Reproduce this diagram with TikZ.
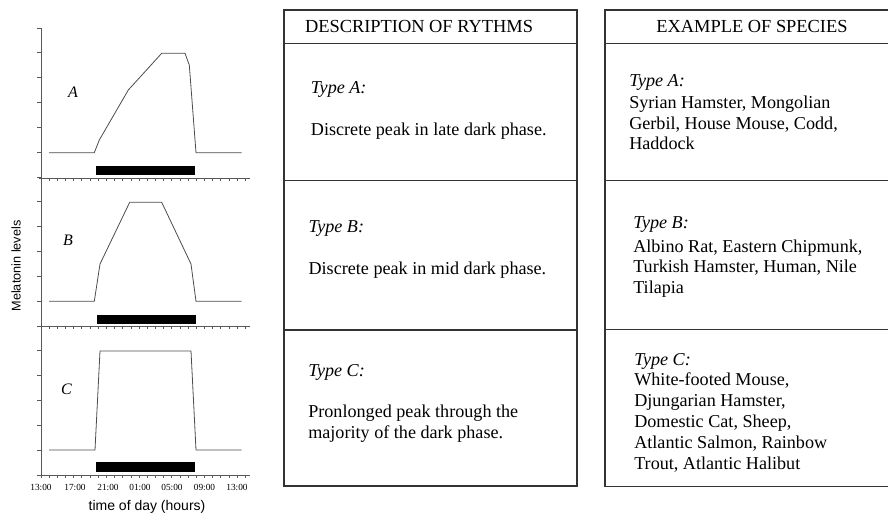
\documentclass[tikz,border=0pt]{standalone}
\usepackage{fontspec}
\setmainfont{Liberation Serif}
\setsansfont{Liberation Sans}

\begin{document}
\begin{tikzpicture}[x=0.75pt,y=-0.75pt,
  axis/.style={draw=black!65,line width=0.7pt},
  curve/.style={draw=black!70,line width=0.6pt},
  darkbar/.style={fill=black},
  cell/.style={draw=black!80,line width=0.8pt},
  txt/.style={anchor=base west,inner sep=0pt,font=\fontsize{13.6}{15}\selectfont},
  head/.style={anchor=base,inner sep=0pt,font=\fontsize{13.8}{15}\selectfont},
  ticklab/.style={anchor=base,inner sep=0pt,font=\fontsize{7}{8}\selectfont},
  panel/.style={inner sep=0pt,font=\fontsize{12}{13}\selectfont\itshape}]
\useasboundingbox (0,0) rectangle (888,514);

% melatonin plots
\draw[axis] (41,28) -- (41,475);
\foreach \k in {0,...,18}
  \draw[axis] (37,28+24.833*\k) -- (41,28+24.833*\k);
\foreach \y in {178,326,475} {
  \draw[axis] (39,\y) -- (250,\y);
  \foreach \i in {0,...,25}
    \draw[axis] (41+8.18*\i,\y) -- (41+8.18*\i,\y+3);
}

\draw[curve] (49,152.7) -- (94.3,152.7) -- (99.3,140) -- (128.3,90) -- (161.7,53.3)
  -- (185,53.3) -- (189.3,65) -- (196,152.7) -- (241.7,152.7);
\fill[darkbar] (96,165.5) rectangle (195,175);

\draw[curve] (49,301.3) -- (94.3,301.3) -- (100,264) -- (129.7,202.3) -- (161.7,202.3)
  -- (191,264) -- (196,301.3) -- (241.7,301.3);
\fill[darkbar] (96.7,315) rectangle (196,324);

\draw[curve] (49,450) -- (95,450) -- (100,351) -- (191,351) -- (196,450) -- (241.7,450);
\fill[darkbar] (96,462.3) rectangle (195,471.7);

\node[panel] (panelA) at (73,92) {A};
\node[panel] (panelB) at (68,240) {B};
\node[panel] (panelC) at (66.5,389) {C};

\node[ticklab] (t0) at (41,490.5) {13:00};
\node[ticklab] (t1) at (75,490.5) {17:00};
\node[ticklab] (t2) at (108,490.5) {21:00};
\node[ticklab] (t3) at (140,490.5) {01:00};
\node[ticklab] (t4) at (172,490.5) {05:00};
\node[ticklab] (t5) at (204.5,490.5) {09:00};
\node[ticklab] (t6) at (237,490.5) {13:00};

\node[font=\sffamily\fontsize{10.5}{12}\selectfont,inner sep=0pt] (xlab) at (147,507) {time of day (hours)};
\node[font=\sffamily\fontsize{9.5}{11}\selectfont,inner sep=0pt,rotate=90] (ylab) at (16,266) {Melatonin levels};

% description table
\draw[cell] (284,10) rectangle (577,486);
\draw[cell] (284,43.5) -- (577,43.5);
\draw[cell] (284,180.7) -- (577,180.7);
\draw[cell] (284,330) -- (577,330);

\node[head] (descHead) at (419,32.3) {DESCRIPTION OF RYTHMS};
\node[txt] (descA) at (310.7,93.3) {\itshape Type A:};
\node[txt] (descA1) at (310.7,135) {Discrete peak in late dark phase.};
\node[txt] (descB) at (308.3,232.7) {\itshape Type B:};
\node[txt] (descB1) at (308.3,274.3) {Discrete peak in mid dark phase.};
\node[txt] (descC) at (308,376.7) {\itshape Type C:};
\node[txt] (descC1) at (308,417.3) {Pronlonged peak through the};
\node[txt] (descC2) at (308,438.3) {majority of the dark phase.};

% species table
\draw[cell] (888,10) -- (605,10) -- (605,486.7) -- (888,486.7);
\draw[cell] (605,43.5) -- (888,43.5);
\draw[cell] (605,180.7) -- (888,180.7);
\draw[cell] (605,329.5) -- (888,329.5);

\node[head] (specHead) at (752,32.3) {EXAMPLE OF SPECIES};
\node[txt] (specA) at (629,86) {\itshape Type A:};
\node[txt] (specA1) at (629,108.3) {Syrian Hamster, Mongolian};
\node[txt] (specA2) at (629,129.3) {Gerbil, House Mouse, Codd,};
\node[txt] (specA3) at (629,149.5) {Haddock};
\node[txt] (specB) at (633,228.3) {\itshape Type B:};
\node[txt] (specB1) at (633,252.3) {Albino Rat, Eastern Chipmunk,};
\node[txt] (specB2) at (633,272.7) {Turkish Hamster, Human, Nile};
\node[txt] (specB3) at (633,293.3) {Tilapia};
\node[txt] (specC) at (634,365) {\itshape Type C:};
\node[txt] (specC1) at (634,385.7) {White-footed Mouse,};
\node[txt] (specC2) at (634,406.7) {Djungarian Hamster,};
\node[txt] (specC3) at (634,427.3) {Domestic Cat, Sheep,};
\node[txt] (specC4) at (634,448.3) {Atlantic Salmon, Rainbow};
\node[txt] (specC5) at (634,469) {Trout, Atlantic Halibut};
\end{tikzpicture}
\end{document}
